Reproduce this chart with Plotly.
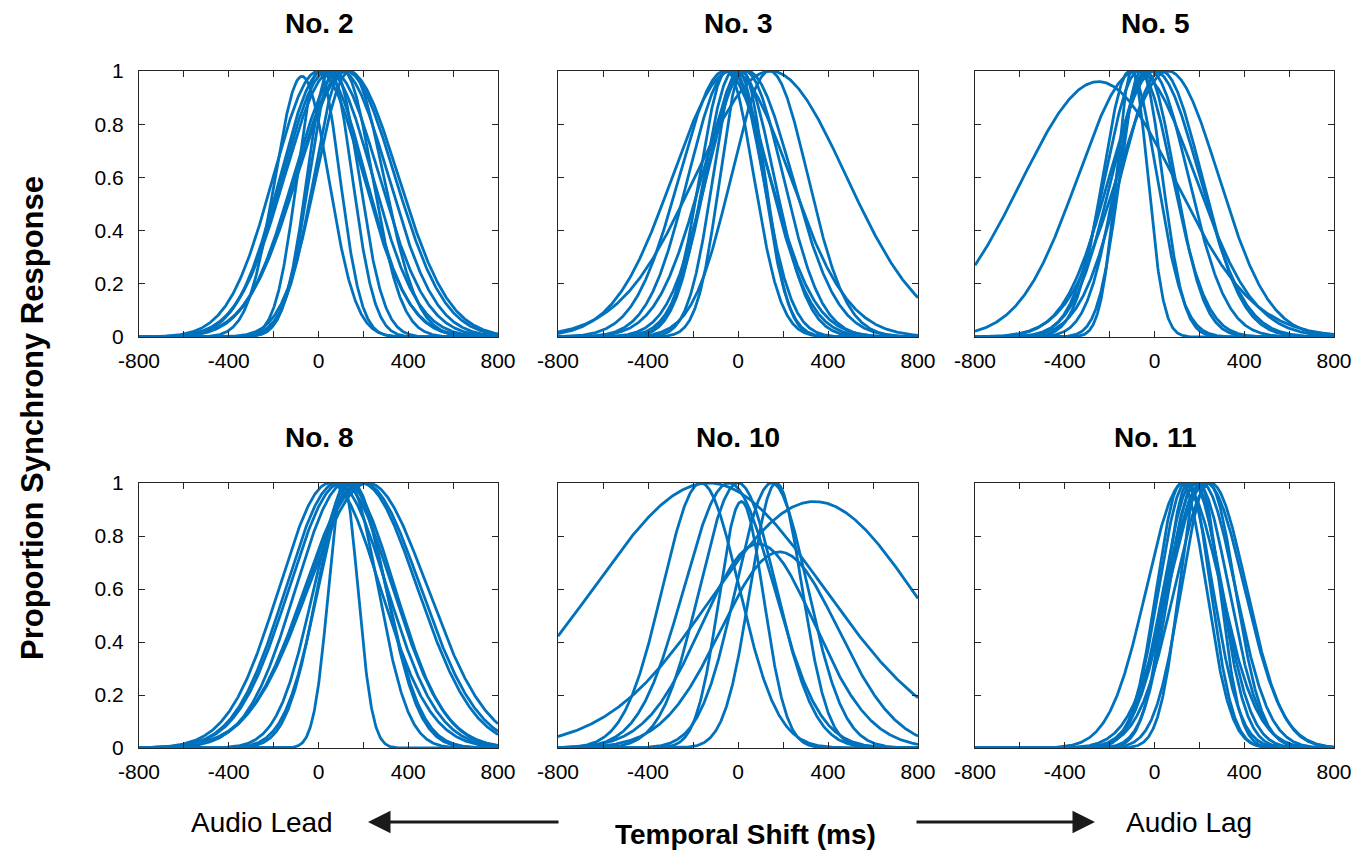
import numpy as np
import plotly.graph_objects as go

# ---- Data: fitted Gaussian parameters per participant ----
panel_titles = ["No. 2", "No. 3", "No. 5", "No. 8", "No. 10", "No. 11"]

no2_mu  = [-74, 0, 20, 40, 60, 100, 120, 130, 140, 70, 110, 50, 0]
no2_sd  = [120, 200, 190, 200, 210, 210, 220, 225, 150, 110, 130, 100, 95]
no2_amp = [0.98, 1, 1, 1, 1, 1, 1, 1, 1, 1, 1, 1, 1]

no3_mu  = [-60, -40, -20, 0, 10, 20, 30, -50, 140, 145, 40, -30]
no3_sd  = [200, 180, 130, 110, 150, 100, 170, 120, 170, 335, 200, 260]
no3_amp = [1, 1, 1, 1, 1, 1, 1, 1, 1, 1, 1, 1]

no5_mu  = [-250, -100, -60, -80, -70, -40, -20, 0, 30, 60, -110]
no5_sd  = [345, 70, 95, 260, 150, 130, 170, 200, 180, 225, 120]
no5_amp = [0.96, 1, 1, 1, 1, 1, 1, 1, 1, 1, 1]

no8_mu  = [50, 80, 100, 120, 110, 130, 140, 150, 190, 200, 220]
no8_sd  = [225, 225, 230, 220, 65, 135, 160, 150, 250, 255, 265]
no8_amp = [1, 1, 1, 1, 1, 1, 1, 1, 1, 1, 1]

no10_mu  = [-130, 340, -165, 0, 15, 150, 170, 90, 185, -40]
no10_sd  = [510, 460, 170, 170, 100, 160, 115, 250, 260, 200]
no10_amp = [1.0, 0.93, 1.0, 1.0, 0.93, 1.0, 1.0, 0.77, 0.74, 1.0]

no11_mu  = [120, 140, 150, 170, 190, 200, 210, 230, 250, 180, 240, 130]
no11_sd  = [110, 120, 100, 130, 140, 90, 150, 170, 160, 115, 120, 165]
no11_amp = [1, 1, 1, 1, 1, 1, 1, 1, 1, 1, 1, 1]

panels = [
    (no2_mu, no2_sd, no2_amp),
    (no3_mu, no3_sd, no3_amp),
    (no5_mu, no5_sd, no5_amp),
    (no8_mu, no8_sd, no8_amp),
    (no10_mu, no10_sd, no10_amp),
    (no11_mu, no11_sd, no11_amp),
]

x_tickvals = [-800, -600, -400, -200, 0, 200, 400, 600, 800]
x_ticktext = ["-800", "", "-400", "", "0", "", "400", "", "800"]
y_tickvals = [0, 0.2, 0.4, 0.6, 0.8, 1.0]
y_ticktext = ["0", "0.2", "0.4", "0.6", "0.8", "1"]

W, H = 1368, 850
col_px = [(139, 498), (558, 918), (975, 1334)]
row_px = [(71, 337), (483, 748)]
title_y_px = [24, 437]

LINE_COLOR = "#0072BD"
AX_COLOR = "#262626"
FONT = "Liberation Sans, Arial, sans-serif"

fig = go.Figure()
xs = np.linspace(-800, 800, 641)

layout = {}
annotations = []
for i, (mu, sd, amp) in enumerate(panels):
    r, c = divmod(i, 3)
    n = i + 1
    xa = "xaxis" if n == 1 else f"xaxis{n}"
    ya = "yaxis" if n == 1 else f"yaxis{n}"
    xref = "x" if n == 1 else f"x{n}"
    yref = "y" if n == 1 else f"y{n}"
    x0, x1 = col_px[c]
    t0, t1 = row_px[r]
    layout[xa] = dict(
        domain=[x0 / W, x1 / W], anchor=yref, range=[-800, 800],
        tickvals=x_tickvals, ticktext=x_ticktext, ticks="inside", ticklen=6,
        tickcolor=AX_COLOR, showline=True, linecolor=AX_COLOR, linewidth=1,
        mirror="ticks", showgrid=False, zeroline=False, automargin=False,
        ticklabelstandoff=5,
        tickfont=dict(family=FONT, size=21, color="black"),
    )
    layout[ya] = dict(
        domain=[1 - t1 / H, 1 - t0 / H], anchor=xref, range=[0, 1],
        tickvals=y_tickvals, ticktext=y_ticktext, ticks="inside", ticklen=6,
        tickcolor=AX_COLOR, showline=True, linecolor=AX_COLOR, linewidth=1,
        mirror="ticks", showgrid=False, zeroline=False, automargin=False,
        showticklabels=(c == 0), ticklabelstandoff=10,
        tickfont=dict(family=FONT, size=21, color="black"),
    )
    for m, s, a in zip(mu, sd, amp):
        ys = a * np.exp(-((xs - m) ** 2) / (2 * s ** 2))
        fig.add_trace(go.Scatter(
            x=xs, y=ys, mode="lines", xaxis=xref, yaxis=yref,
            line=dict(color=LINE_COLOR, width=2.8), showlegend=False,
            hoverinfo="skip", cliponaxis=False,
        ))
    annotations.append(dict(
        text="<b>%s</b>" % panel_titles[i], x=(x0 + x1) / 2 / W,
        y=1 - title_y_px[r] / H, xref="paper", yref="paper",
        xanchor="center", yanchor="middle", showarrow=False,
        font=dict(family=FONT, size=28, color="black"),
    ))

# Y-axis shared title
annotations.append(dict(
    text="<b>Proportion Synchrony Response</b>", x=33 / W, y=1 - 418 / H,
    xref="paper", yref="paper", xanchor="center", yanchor="middle",
    textangle=-90, showarrow=False,
    font=dict(family=FONT, size=31, color="black"),
))
# Bottom labels
annotations.append(dict(
    text="<b>Temporal Shift (ms)</b>", x=746 / W, y=1 - 834 / H,
    xref="paper", yref="paper", xanchor="center", yanchor="middle",
    showarrow=False, font=dict(family=FONT, size=28, color="black"),
))
annotations.append(dict(
    text="Audio Lead", x=262 / W, y=1 - 822 / H,
    xref="paper", yref="paper", xanchor="center", yanchor="middle",
    showarrow=False, font=dict(family=FONT, size=28, color="black"),
))
annotations.append(dict(
    text="Audio Lag", x=1189 / W, y=1 - 822 / H,
    xref="paper", yref="paper", xanchor="center", yanchor="middle",
    showarrow=False, font=dict(family=FONT, size=28, color="black"),
))
# Arrows
annotations.append(dict(
    text="", x=368 / W, y=1 - 822 / H, xref="paper", yref="paper",
    ax=192, ay=0, showarrow=True, arrowhead=2, arrowsize=1.5,
    arrowwidth=3, arrowcolor="#1a1a1a",
))
annotations.append(dict(
    text="", x=1095 / W, y=1 - 822 / H, xref="paper", yref="paper",
    ax=-180, ay=0, showarrow=True, arrowhead=2, arrowsize=1.5,
    arrowwidth=3, arrowcolor="#1a1a1a",
))

fig.update_layout(
    width=W, height=H, margin=dict(l=0, r=0, t=0, b=0),
    paper_bgcolor="white", plot_bgcolor="white",
    annotations=annotations, **layout,
)

fig.write_html("out.html")
